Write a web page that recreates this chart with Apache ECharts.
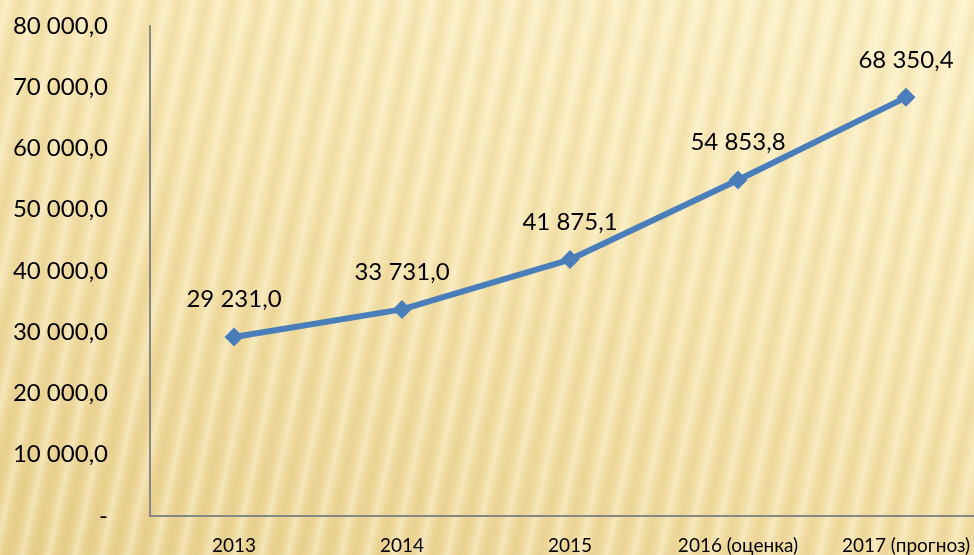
<!DOCTYPE html>
<html>
<head>
<meta charset="utf-8">
<script src="https://cdn.jsdelivr.net/npm/echarts@6/dist/echarts.min.js"></script>
<style>
  html, body { margin: 0; padding: 0; }
  body {
    width: 974px; height: 555px; overflow: hidden;
    background:
      repeating-linear-gradient(102deg, rgba(255,255,240,0) 0px, rgba(255,250,225,0.45) 7px, rgba(255,255,240,0) 14px, rgba(200,170,90,0.12) 20px, rgba(255,255,240,0) 26px),
      linear-gradient(200deg, #fbefc6 0%, #f5e3ad 45%, #e9d08e 100%);
  }
  #chart { width: 974px; height: 555px; }
</style>
</head>
<body>
<div id="chart"></div>
<script>
  // годы и значения
  var categories = ['2013', '2014', '2015', '2016 (оценка)', '2017 (прогноз)'];
  var values = [29231.0, 33731.0, 41875.1, 54853.8, 68350.4];

  function fmt(v) {
    if (v === 0) return '-';
    var parts = v.toFixed(1).split('.');
    return parts[0].replace(/\B(?=(\d{3})+(?!\d))/g, ' ') + ',' + parts[1];
  }

  var myChart = echarts.init(document.getElementById('chart'));
  var option = {
    backgroundColor: 'transparent',
    textStyle: { fontFamily: 'Lato, "Open Sans", sans-serif' },
    grid: { left: 150, top: 26, width: 840, height: 490, outerBoundsMode: 'none' },
    xAxis: {
      type: 'category',
      data: categories,
      axisLine: { lineStyle: { color: '#878787', width: 2 } },
      axisTick: { show: false },
      axisLabel: { color: '#000', fontSize: 19, margin: 20 }
    },
    yAxis: {
      type: 'value',
      min: 0,
      max: 80000,
      interval: 10000,
      splitLine: { show: false },
      axisLine: { show: true, lineStyle: { color: '#878787', width: 2 } },
      axisTick: { show: false },
      axisLabel: {
        color: '#000', fontSize: 24, margin: 42,
        formatter: function (v) { return fmt(v); }
      }
    },
    series: [{
      type: 'line',
      data: values,
      symbol: 'diamond',
      symbolSize: 19,
      lineStyle: { color: '#4a7ebb', width: 6 },
      itemStyle: { color: '#4a7ebb' },
      label: {
        show: true,
        position: 'top',
        distance: 16,
        color: '#000',
        fontSize: 24,
        formatter: function (p) { return fmt(p.value); }
      },
      animation: false
    }]
  };
  myChart.setOption(option);
</script>
</body>
</html>
